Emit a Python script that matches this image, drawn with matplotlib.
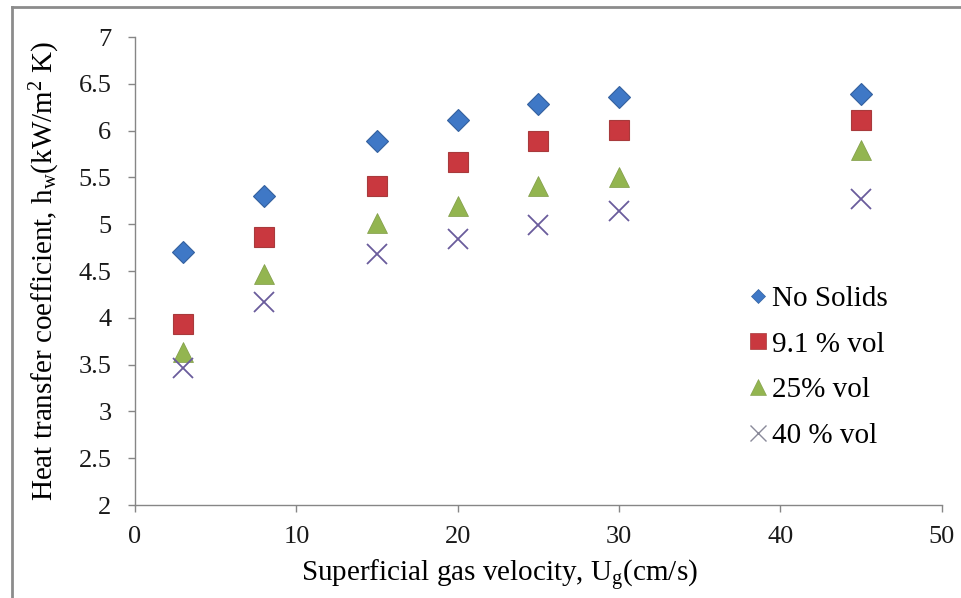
import matplotlib
matplotlib.use("Agg")
import matplotlib.pyplot as plt
from matplotlib.lines import Line2D

# Superficial gas velocity (cm/s)
velocity = [3, 8, 15, 20, 25, 30, 45]

# Wall heat transfer coefficient (kW/m2 K) for each solids loading
no_solids = [4.70, 5.30, 5.89, 6.11, 6.29, 6.36, 6.39]
vol_9_1 = [3.93, 4.86, 5.41, 5.66, 5.89, 6.01, 6.11]
vol_25 = [3.63, 4.47, 5.01, 5.20, 5.41, 5.51, 5.79]
vol_40 = [3.46, 4.17, 4.68, 4.84, 4.99, 5.14, 5.27]

series_labels = ["No Solids", "9.1 % vol", "25% vol", "40 % vol"]
x_ticks = [0, 10, 20, 30, 40, 50]
y_ticks = [2, 2.5, 3, 3.5, 4, 4.5, 5, 5.5, 6, 6.5, 7]
y_tick_labels = ["2", "2.5", "3", "3.5", "4", "4.5", "5", "5.5", "6", "6.5", "7"]

plt.rcParams["font.family"] = ["Liberation Serif", "DejaVu Serif"]
plt.rcParams["mathtext.fontset"] = "custom"
plt.rcParams["mathtext.rm"] = "Liberation Serif"
plt.rcParams["mathtext.it"] = "Liberation Serif:italic"

fig = plt.figure(figsize=(9.61, 5.98), dpi=100)
ax = fig.add_axes([0.1405, 0.1555, 0.8395, 0.7825])

styles = [
    dict(marker="D", face="#3F78C6", edge="#34619F", ms=11, mew=0.8),
    dict(marker="s", face="#C9383F", edge="#A83A3C", ms=15, mew=0.8),
    dict(marker="^", face="#93B550", edge="#7E9B45", ms=15, mew=0.5),
    dict(marker="x", face="#6A5C9C", edge="#6A5C9C", ms=15, mew=1.3),
]
for vals, st, lab in zip([no_solids, vol_9_1, vol_25, vol_40], styles, series_labels):
    ax.plot(velocity, vals, linestyle="none", marker=st["marker"],
            markerfacecolor=st["face"], markeredgecolor=st["edge"],
            markersize=st["ms"], markeredgewidth=st["mew"], label=lab, clip_on=False)

ax.set_xlim(0, 50)
ax.set_ylim(2, 7)
ax.set_xticks(x_ticks)
ax.set_yticks(y_ticks)
ax.set_yticklabels(y_tick_labels)

for side in ["top", "right"]:
    ax.spines[side].set_visible(False)
for side in ["left", "bottom"]:
    ax.spines[side].set_color("#868686")
    ax.spines[side].set_linewidth(1.0)
ax.tick_params(axis="both", direction="out", length=5, width=1.0, color="#868686",
               labelsize=19, labelcolor="#1a1a1a")
ax.tick_params(axis="y", pad=12)
ax.tick_params(axis="x", pad=10)

ax.set_xlabel("Superficial gas velocity, U$_\\mathrm{g}$(cm/s)", fontsize=21, labelpad=8)
ax.xaxis.set_label_coords(0.452, -0.114)
ax.set_ylabel("Heat transfer coefficient, h$_\\mathrm{w}$(kW/m$^2$ K)", fontsize=21, labelpad=12)

handles = [
    Line2D([], [], linestyle="none", marker="D", markerfacecolor="#3F78C6",
           markeredgecolor="#34619F", markersize=7, markeredgewidth=0.5),
    Line2D([], [], linestyle="none", marker="s", markerfacecolor="#C9383F",
           markeredgecolor="#A83A3C", markersize=11, markeredgewidth=0.5),
    Line2D([], [], linestyle="none", marker="^", markerfacecolor="#93B550",
           markeredgecolor="#7E9B45", markersize=11, markeredgewidth=0.4),
    Line2D([], [], linestyle="none", marker="x", color="#8A8A9A", markersize=12,
           markeredgewidth=1.0),
]
ax.legend(handles, series_labels, loc="upper left", bbox_to_anchor=(0.761, 0.469),
          frameon=False, fontsize=21, handlelength=0.6, handletextpad=0.2,
          labelspacing=0.66, borderaxespad=0, borderpad=0)

# thin grey frame along the left and top edges
fig.add_artist(Line2D([12 / 961, 12 / 961], [0, 1 - 7 / 598], transform=fig.transFigure,
                      color="#8c8c8c", linewidth=2))
fig.add_artist(Line2D([12 / 961, 1], [1 - 7 / 598, 1 - 7 / 598], transform=fig.transFigure,
                      color="#8c8c8c", linewidth=2))

fig.savefig("out.png", dpi=100)
